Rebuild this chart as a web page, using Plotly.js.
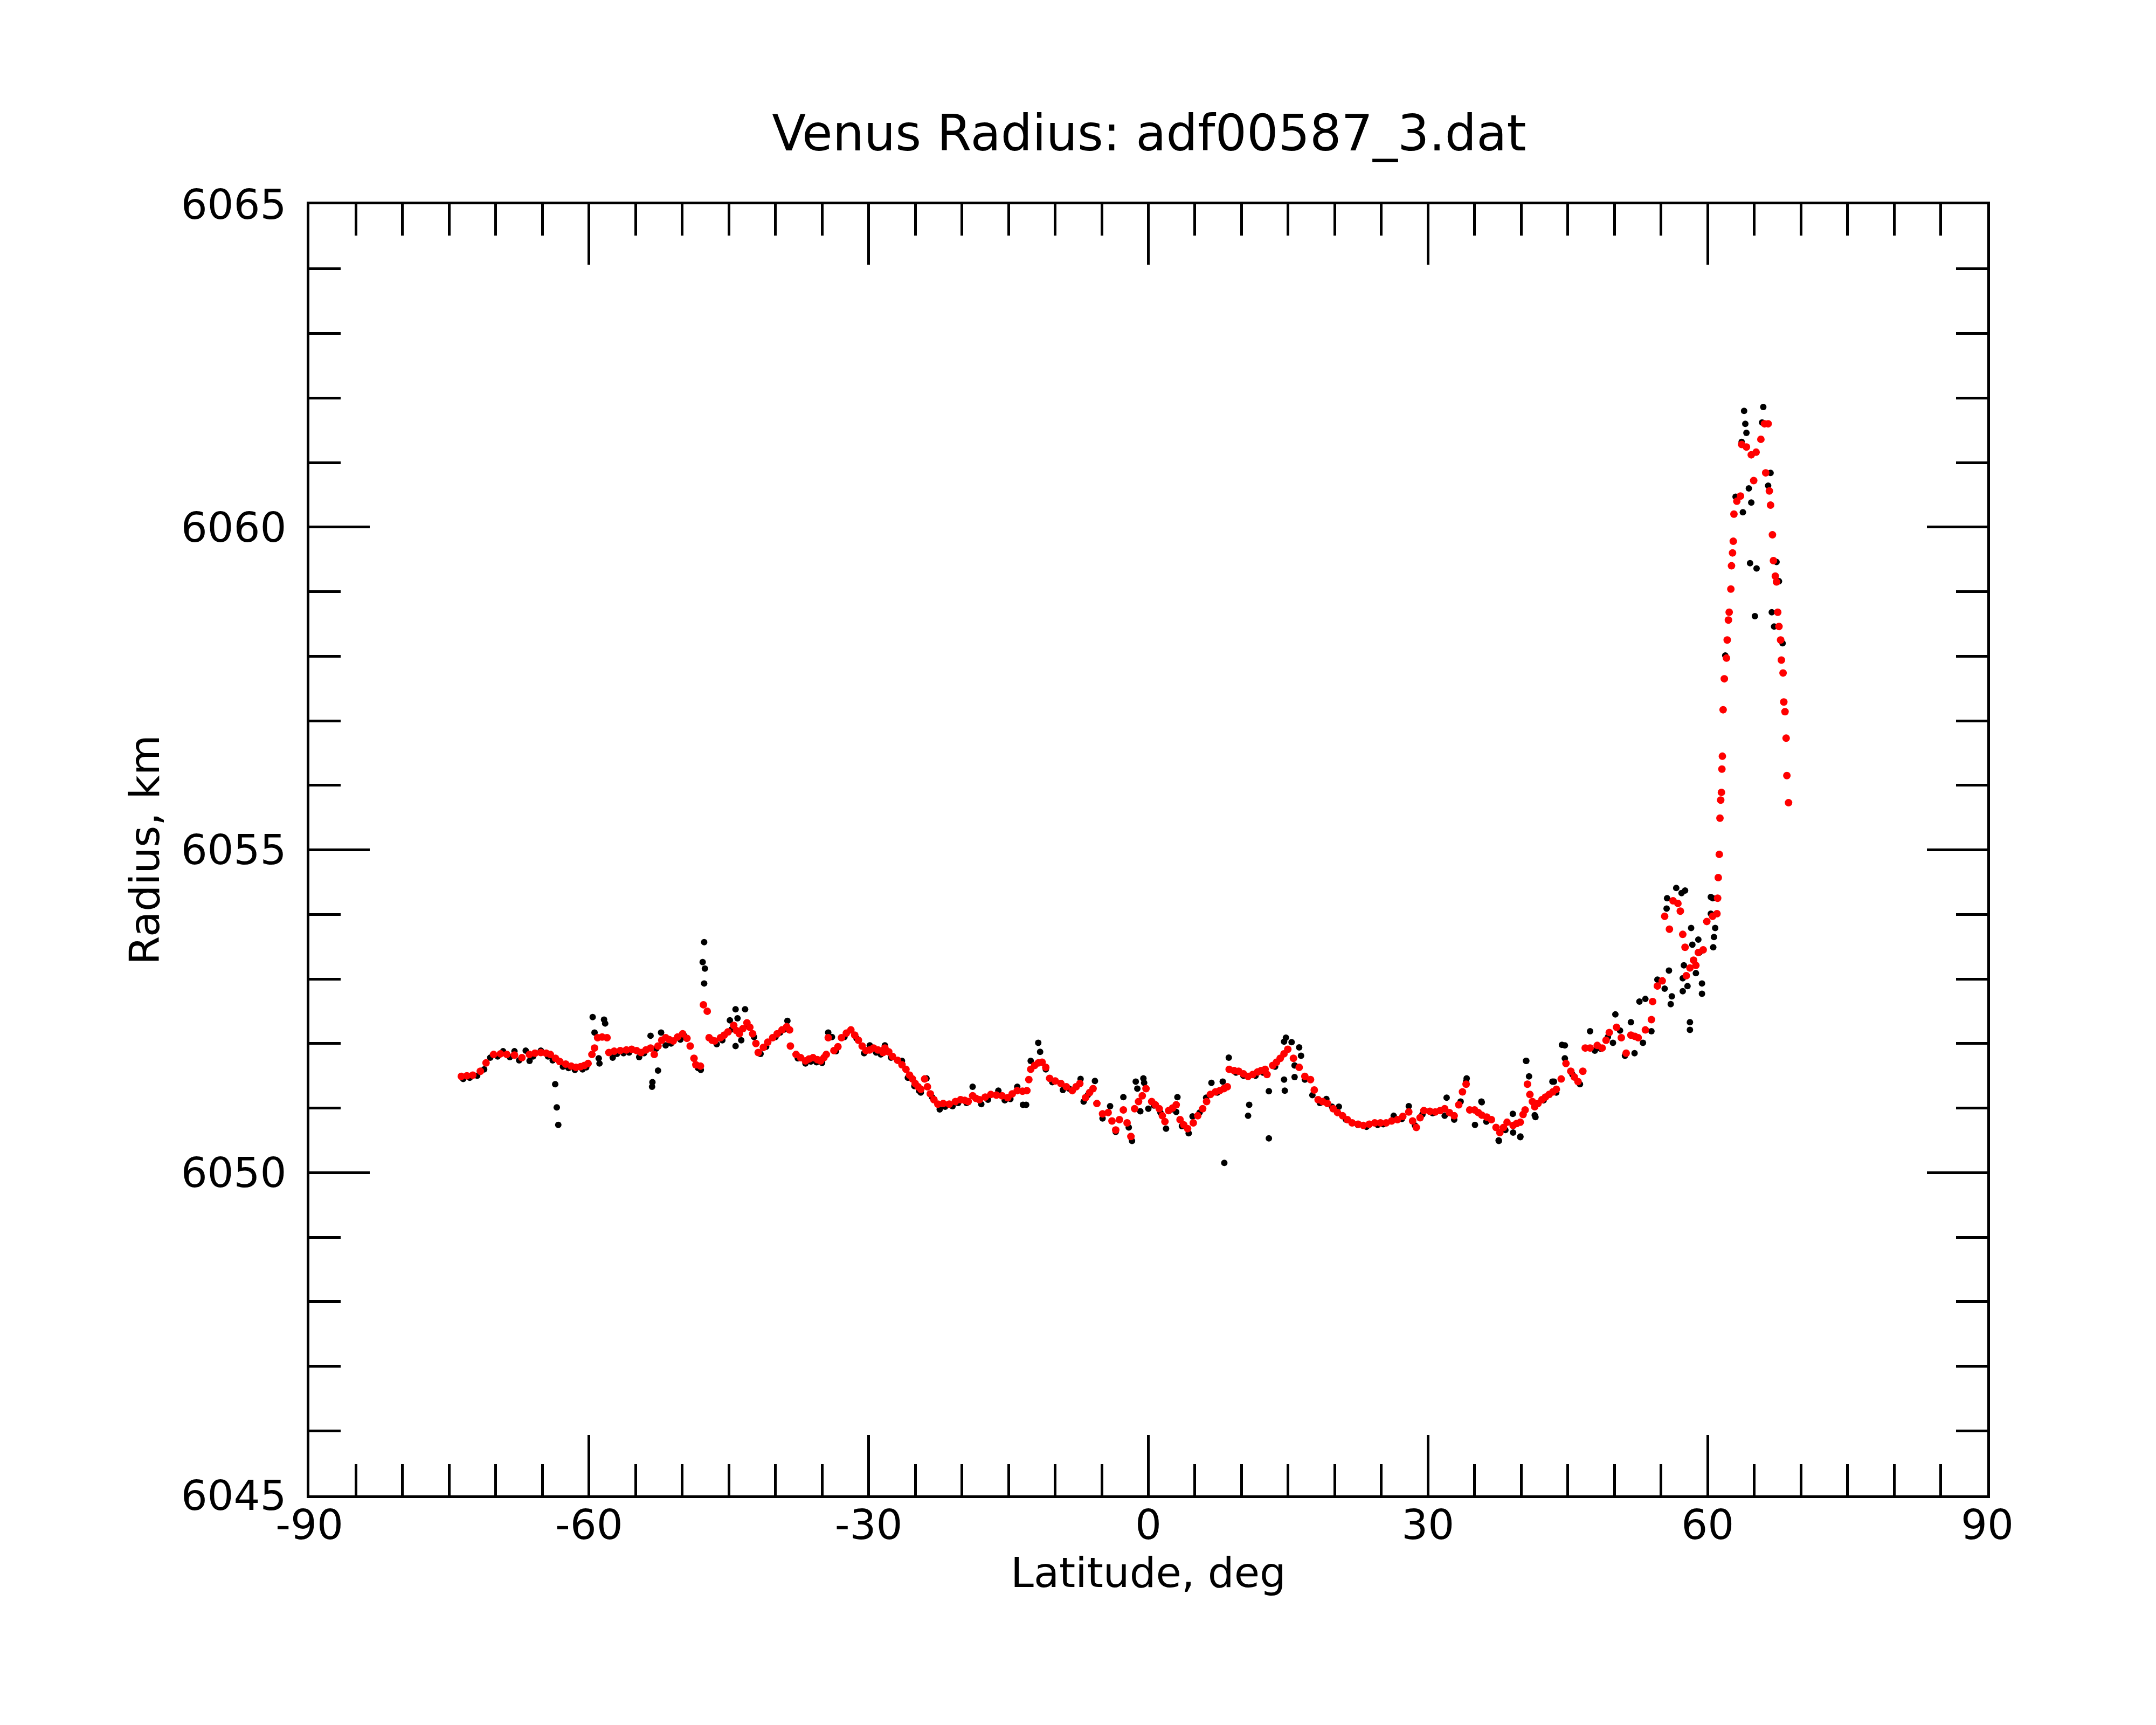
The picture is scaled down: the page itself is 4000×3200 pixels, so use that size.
<!DOCTYPE html>
<html>
<head>
<meta charset="utf-8">
<script src="https://cdn.plot.ly/plotly-3.0.1.min.js"></script>
<style>
  html, body { margin: 0; padding: 0; background: #fff; }
  #chart { width: 4000px; height: 3200px; }
</style>
</head>
<body>
<div id="chart"></div>
<script>
// smoothed profile (red)
const redLat = [
  -73.7, -73.1, -72.47, -71.66, -71.05, -70.24, -69.5, -68.82, -68.0, -67.2, -66.4, -65.8, -65.17, -64.6, -64.15,
  -63.6, -63.14, -62.5, -61.92, -61.4, -60.91, -60.5, -60.1, -59.69, -59.41, -59.08, -58.6, -58.07, -57.87, -57.3,
  -56.65, -56.0, -55.43, -54.9, -54.42, -53.9, -53.4, -53.0, -52.6, -52.2, -51.78, -51.4, -50.97, -50.5, -49.96,
  -49.5, -49.15, -48.74, -48.54, -48.05, -47.73, -47.32, -47.12, -46.8, -46.51, -45.9, -45.5, -45.09, -44.48, -44.2,
  -43.87, -43.5, -43.06, -42.75, -42.45, -42.1, -41.85, -41.3, -40.83, -40.3, -39.82, -39.3, -38.8, -38.48, -38.4,
  -37.79, -37.3, -36.78, -36.4, -35.97, -35.5, -35.16, -34.8, -34.55, -34.34, -33.73, -33.3, -32.92, -32.4, -31.91,
  -31.5, -31.1, -30.7, -30.29, -29.9, -29.48, -29.0, -28.46, -28.26, -27.85, -27.45, -26.9, -26.43, -26.0, -25.62,
  -25.3, -25.01, -24.7, -24.41, -24.0, -23.7, -23.39, -23.0, -22.58, -22.0, -21.36, -20.7, -20.14, -19.7, -19.33,
  -18.85, -18.5, -18.12, -17.5, -16.9, -16.3, -15.69, -15.08, -14.6, -14.06, -13.5, -13.03, -12.82, -12.62, -12.2,
  -11.8, -11.4, -11.0, -10.59, -10.0, -9.38, -8.8, -8.16, -7.75, -7.35, -6.74, -6.3, -5.93, -5.52, -4.91,
  -4.31, -3.9, -3.5, -3.1, -2.68, -2.28, -1.87, -1.47, -1.05, -0.65, -0.25, 0.36, 0.75, 1.17, 1.5,
  1.78, 2.18, 2.6, 2.99, 3.4, 3.8, 4.21, 4.82, 5.3, 5.83, 6.25, 6.65, 7.2, 7.66, 8.1,
  8.47, 8.67, 9.2, 9.69, 10.2, 10.7, 11.2, 11.72, 12.1, 12.53, 12.73, 13.34, 13.75, 14.15, 14.55,
  14.96, 15.57, 16.18, 16.79, 17.4, 17.8, 18.21, 18.7, 19.22, 19.83, 20.3, 20.84, 21.35, 21.86, 22.5,
  23.07, 23.7, 24.29, 24.9, 25.51, 26.1, 26.72, 27.3, 27.94, 28.35, 28.75, 29.15, 29.56, 30.2, 30.78,
  31.3, 31.79, 32.3, 32.81, 33.3, 33.7, 34.09, 34.48, 35.0, 35.4, 35.77, 36.3, 36.8, 37.3, 37.71,
  38.1, 38.48, 39.13, 39.5, 39.9, 40.2, 40.42, 40.67, 40.93, 41.2, 41.45, 41.8, 42.22, 42.6, 42.99,
  43.4, 43.77, 44.29, 44.8, 45.32, 45.7, 46.09, 46.61, 46.87, 47.39, 48.16, 48.68, 49.1, 49.45, 50.23,
  50.74, 51.26, 51.77, 52.2, 52.55, 53.32, 53.97, 54.1, 54.61, 55.13, 55.39, 55.9, 56.29, 56.81, 57.07,
  57.33, 57.58, 57.71, 58.1, 58.49, 58.74, 59.0, 59.52, 59.91, 60.53, 61.0, 61.07, 61.14, 61.25, 61.32,
  61.4, 61.48, 61.53, 61.58, 61.66, 61.79, 62.02, 62.1, 62.23, 62.31, 62.49, 62.56, 62.67, 62.75, 62.82,
  63.13, 63.52, 63.65, 64.16, 64.68, 64.94, 65.2, 65.71, 66.1, 66.23, 66.49, 66.62, 66.75, 66.95, 67.06,
  67.26, 67.39, 67.52, 67.65, 67.83, 67.91, 68.09, 68.17, 68.3, 68.42, 68.5, 68.68
];
const redRad = [
  6051.49, 6051.50, 6051.51, 6051.57, 6051.70, 6051.83, 6051.84, 6051.83, 6051.82, 6051.78, 6051.83, 6051.85, 6051.86, 6051.85, 6051.83,
  6051.77, 6051.72, 6051.68, 6051.65, 6051.63, 6051.64, 6051.66, 6051.69, 6051.83, 6051.93, 6052.09, 6052.10, 6052.09, 6051.86, 6051.88,
  6051.89, 6051.90, 6051.91, 6051.89, 6051.86, 6051.90, 6051.93, 6051.83, 6051.96, 6052.05, 6052.09, 6052.06, 6052.04, 6052.10, 6052.15,
  6052.08, 6051.96, 6051.77, 6051.67, 6051.65, 6052.60, 6052.50, 6052.09, 6052.05, 6052.04, 6052.09, 6052.13, 6052.18, 6052.28, 6052.20,
  6052.15, 6052.23, 6052.32, 6052.25, 6052.15, 6052.00, 6051.86, 6051.94, 6052.02, 6052.09, 6052.15, 6052.21, 6052.26, 6052.21, 6051.96,
  6051.83, 6051.78, 6051.73, 6051.76, 6051.78, 6051.75, 6051.73, 6051.78, 6051.83, 6052.09, 6051.89, 6051.95, 6052.09, 6052.16, 6052.21,
  6052.13, 6052.05, 6051.96, 6051.89, 6051.90, 6051.93, 6051.90, 6051.86, 6051.93, 6051.87, 6051.80, 6051.74, 6051.67, 6051.60, 6051.51,
  6051.45, 6051.38, 6051.33, 6051.29, 6051.45, 6051.33, 6051.22, 6051.13, 6051.06, 6051.07, 6051.06, 6051.10, 6051.13, 6051.12, 6051.10,
  6051.19, 6051.15, 6051.13, 6051.17, 6051.21, 6051.20, 6051.19, 6051.16, 6051.22, 6051.27, 6051.26, 6051.27, 6051.44, 6051.60, 6051.66,
  6051.70, 6051.71, 6051.63, 6051.46, 6051.42, 6051.38, 6051.33, 6051.27, 6051.33, 6051.38, 6051.16, 6051.24, 6051.30, 6051.07, 6050.91,
  6050.93, 6050.80, 6050.66, 6050.82, 6050.97, 6050.77, 6050.56, 6050.99, 6051.10, 6051.19, 6051.30, 6051.10, 6051.05, 6050.99, 6050.88,
  6050.79, 6050.96, 6051.00, 6051.05, 6050.82, 6050.74, 6050.68, 6050.77, 6050.88, 6050.99, 6051.10, 6051.21, 6051.25, 6051.27, 6051.30,
  6051.33, 6051.60, 6051.58, 6051.57, 6051.53, 6051.49, 6051.52, 6051.56, 6051.58, 6051.60, 6051.52, 6051.66, 6051.71, 6051.77, 6051.84,
  6051.91, 6051.77, 6051.63, 6051.49, 6051.44, 6051.28, 6051.13, 6051.10, 6051.07, 6050.99, 6050.93, 6050.88, 6050.82, 6050.77, 6050.75,
  6050.73, 6050.75, 6050.77, 6050.77, 6050.77, 6050.80, 6050.82, 6050.87, 6050.94, 6050.80, 6050.70, 6050.85, 6050.96, 6050.95, 6050.94,
  6050.96, 6050.99, 6050.93, 6050.88, 6051.05, 6051.25, 6051.37, 6050.97, 6050.97, 6050.93, 6050.89, 6050.86, 6050.82, 6050.70, 6050.62,
  6050.70, 6050.78, 6050.73, 6050.76, 6050.78, 6050.90, 6050.97, 6051.37, 6051.21, 6051.10, 6051.02, 6051.07, 6051.13, 6051.17, 6051.21,
  6051.25, 6051.29, 6051.45, 6051.69, 6051.57, 6051.48, 6051.41, 6051.57, 6051.93, 6051.93, 6051.97, 6051.93, 6052.05, 6052.17, 6052.25,
  6052.09, 6051.85, 6052.13, 6052.11, 6052.09, 6052.21, 6052.37, 6052.65, 6052.89, 6052.97, 6053.97, 6053.77, 6054.21, 6054.17, 6054.05,
  6053.69, 6053.49, 6053.05, 6053.17, 6053.29, 6053.21, 6053.41, 6053.45, 6053.89, 6053.97, 6054.01, 6054.25, 6054.57, 6054.93, 6055.49,
  6055.77, 6055.89, 6056.25, 6056.45, 6057.17, 6057.65, 6057.97, 6058.25, 6058.56, 6058.68, 6059.04, 6059.40, 6059.60, 6059.78, 6060.20,
  6060.40, 6060.48, 6061.28, 6061.24, 6061.12, 6060.72, 6061.16, 6061.36, 6061.60, 6060.84, 6061.60, 6060.56, 6060.34, 6059.88, 6059.48,
  6059.24, 6059.15, 6058.68, 6058.46, 6058.25, 6057.94, 6057.74, 6057.29, 6057.14, 6056.73, 6056.15, 6055.73
];

// raw measurements (black)
const rawLat = [
  -73.5, -72.8, -72.0, -71.25, -70.6, -69.8, -69.22, -68.5, -68.0, -67.5, -66.79, -66.38, -66.0, -65.17, -64.4,
  -63.9, -63.63, -63.46, -63.3, -62.8, -62.2, -61.52, -60.7, -60.3, -59.61, -59.41, -58.96, -58.88, -58.39, -58.27,
  -57.46, -57.0, -56.3, -55.7, -54.62, -54.1, -53.4, -53.24, -53.2, -52.8, -52.6, -52.27, -51.78, -51.2, -50.2,
  -49.8, -48.3, -48.01, -47.81, -47.65, -47.65, -47.57, -46.3, -45.7, -44.89, -44.7, -44.28, -44.28, -44.07, -43.67,
  -43.26, -42.9, -42.3, -41.6, -41.0, -40.0, -39.5, -39.0, -38.72, -37.6, -36.78, -36.2, -35.6, -35.0, -34.34,
  -33.94, -33.5, -32.6, -31.91, -31.3, -30.49, -29.88, -29.2, -28.7, -28.26, -27.6, -26.43, -25.8, -25.1, -24.6,
  -24.41, -23.8, -23.2, -22.38, -21.8, -21.0, -20.4, -19.5, -18.85, -17.92, -17.2, -16.09, -15.4, -14.8, -14.06,
  -13.45, -13.11, -12.62, -11.81, -11.61, -11.0, -10.3, -9.17, -8.5, -7.27, -6.94, -6.5, -5.73, -4.91, -4.1,
  -3.5, -2.68, -2.1, -1.75, -1.35, -1.18, -0.86, -0.53, -0.45, 0.0, 0.6, 1.3, 1.9, 2.5, 2.99,
  3.12, 3.6, 4.33, 4.74, 5.5, 6.2, 6.77, 7.4, 7.98, 8.15, 8.63, 9.4, 10.2, 10.7, 10.82,
  11.5, 12.3, 12.93, 12.93, 13.6, 14.56, 14.56, 14.64, 14.76, 15.37, 15.69, 15.69, 16.18, 16.38, 16.79,
  17.6, 18.4, 19.1, 19.7, 20.44, 21.2, 22.47, 23.4, 24.6, 25.2, 26.32, 27.2, 27.94, 28.6, 29.4,
  30.5, 31.79, 32.0, 32.81, 33.5, 34.09, 34.15, 35.04, 35.73, 35.77, 36.26, 37.58, 37.6, 38.3, 39.1,
  39.13, 39.9, 39.91, 40.51, 40.55, 40.84, 41.45, 41.53, 42.4, 43.35, 43.51, 43.76, 44.37, 44.68, 44.68,
  45.5, 46.3, 47.39, 47.9, 48.5, 49.3, 49.84, 50.1, 50.6, 51.13, 51.77, 52.16, 52.68, 53.06, 53.32,
  53.97, 54.61, 55.39, 55.6, 55.65, 55.85, 56.04, 56.16, 56.63, 57.2, 57.33, 57.33, 57.45, 57.58, 57.84,
  58.1, 58.1, 58.23, 58.36, 58.74, 59.0, 59.13, 59.39, 59.39, 60.34, 60.34, 60.55, 60.6, 60.68, 60.81,
  61.89, 63.0, 63.65, 63.78, 63.91, 64.04, 64.16, 64.42, 64.55, 64.68, 65.07, 65.25, 65.84, 65.97, 66.49,
  66.75, 66.88, 67.13, 67.39, 67.65, 68.04
];
const rawRad = [
  6051.45, 6051.47, 6051.50, 6051.60, 6051.78, 6051.80, 6051.88, 6051.79, 6051.88, 6051.74, 6051.89, 6051.73, 6051.80, 6051.89, 6051.80,
  6051.74, 6051.37, 6051.01, 6050.74, 6051.64, 6051.62, 6051.59, 6051.60, 6051.63, 6052.41, 6052.17, 6051.77, 6051.69, 6052.37, 6052.31,
  6051.78, 6051.84, 6051.85, 6051.86, 6051.79, 6051.85, 6052.12, 6051.33, 6051.40, 6051.92, 6051.58, 6052.17, 6051.97, 6052.00, 6052.06,
  6052.12, 6051.62, 6051.59, 6053.26, 6053.57, 6052.93, 6053.16, 6051.99, 6052.05, 6052.36, 6052.22, 6052.53, 6051.96, 6052.39, 6052.05,
  6052.53, 6052.27, 6052.10, 6051.84, 6051.95, 6052.10, 6052.17, 6052.22, 6052.35, 6051.77, 6051.69, 6051.72, 6051.71, 6051.70, 6052.17,
  6052.10, 6051.88, 6052.10, 6052.21, 6052.08, 6051.85, 6051.97, 6051.86, 6051.83, 6051.97, 6051.78, 6051.73, 6051.47, 6051.34, 6051.27,
  6051.24, 6051.46, 6051.17, 6050.98, 6051.02, 6051.03, 6051.08, 6051.08, 6051.33, 6051.06, 6051.13, 6051.27, 6051.12, 6051.14, 6051.33,
  6051.05, 6051.05, 6051.73, 6052.01, 6051.87, 6051.60, 6051.40, 6051.28, 6051.30, 6051.45, 6051.10, 6051.20, 6051.42, 6050.84, 6051.03,
  6050.63, 6051.17, 6050.70, 6050.49, 6051.41, 6051.30, 6050.95, 6051.46, 6051.39, 6050.99, 6051.04, 6050.93, 6050.68, 6050.98, 6050.94,
  6051.17, 6050.72, 6050.61, 6050.87, 6050.93, 6051.16, 6051.39, 6051.24, 6051.41, 6050.15, 6051.78, 6051.55, 6051.50, 6050.88, 6051.05,
  6051.50, 6051.55, 6051.26, 6050.53, 6051.64, 6051.44, 6052.03, 6051.27, 6052.09, 6052.02, 6051.48, 6051.66, 6051.94, 6051.81, 6051.44,
  6051.20, 6051.08, 6051.14, 6051.02, 6051.02, 6050.82, 6050.74, 6050.71, 6050.74, 6050.75, 6050.88, 6050.83, 6051.03, 6050.73, 6050.90,
  6050.92, 6050.88, 6051.16, 6050.82, 6051.10, 6051.41, 6051.46, 6050.74, 6051.10, 6051.09, 6050.79, 6050.50, 6050.49, 6050.66, 6050.91,
  6050.62, 6050.55, 6050.56, 6051.73, 6051.73, 6051.49, 6050.89, 6050.86, 6051.12, 6051.41, 6051.41, 6051.24, 6051.98, 6051.97, 6051.77,
  6051.52, 6051.37, 6052.19, 6051.89, 6051.92, 6052.10, 6052.01, 6052.45, 6052.20, 6051.81, 6052.33, 6051.85, 6052.65, 6052.01, 6052.69,
  6052.19, 6052.99, 6052.85, 6054.09, 6054.25, 6053.13, 6052.61, 6052.73, 6054.41, 6054.33, 6053.01, 6052.81, 6053.21, 6054.37, 6052.89,
  6052.33, 6052.21, 6053.79, 6053.53, 6053.09, 6053.61, 6053.41, 6052.93, 6052.77, 6054.01, 6054.27, 6054.25, 6053.49, 6053.65, 6053.79,
  6058.01, 6060.47, 6061.32, 6060.23, 6061.80, 6061.60, 6061.46, 6060.60, 6059.44, 6060.38, 6058.62, 6059.36, 6061.62, 6061.86, 6060.64,
  6060.84, 6058.68, 6058.46, 6059.46, 6059.16, 6058.20
];

// tick labels (plain hyphen for negatives, as in the original)
const latTicks = [-90, -60, -30, 0, 30, 60, 90];
const latLabels = ['-90', '-60', '-30', '0', '30', '60', '90'];
const radTicks = [6045, 6050, 6055, 6060, 6065];
const radLabels = ['6045', '6050', '6055', '6060', '6065'];

const font = 'DejaVu Sans, Liberation Sans, sans-serif';

const raw = {
  x: rawLat,
  y: rawRad,
  mode: 'markers',
  type: 'scatter',
  marker: { color: '#000000', size: 12 },
  hoverinfo: 'skip'
};

const smooth = {
  x: redLat,
  y: redRad,
  mode: 'markers',
  type: 'scatter',
  marker: { color: '#ff0000', size: 14 },
  hoverinfo: 'skip'
};

const layout = {
  width: 4000,
  height: 3200,
  showlegend: false,
  paper_bgcolor: '#ffffff',
  plot_bgcolor: '#ffffff',
  margin: { l: 574, r: 313, t: 379, b: 426 },
  font: { family: font, size: 77, color: '#000' },
  title: {
    text: 'Venus Radius: adf00587_3.dat',
    font: { family: font, size: 92, color: '#000' },
    x: 0.533, xanchor: 'center',
    y: 1 - 247 / 3200, yanchor: 'middle', yref: 'container'
  },
  xaxis: {
    range: [-90, 90],
    tickmode: 'array', tickvals: latTicks, ticktext: latLabels,
    ticks: 'inside', ticklen: 112, tickwidth: 5, tickcolor: '#000',
    minor: { ticks: 'inside', dtick: 5, ticklen: 58, tickwidth: 5, tickcolor: '#000' },
    showline: true, linewidth: 5, linecolor: '#000', mirror: 'ticks',
    showgrid: false, zeroline: false,
    ticklabelstandoff: -16,
    tickfont: { family: font, size: 77 },
    title: { text: 'Latitude, deg', font: { family: font, size: 77 }, standoff: 0 }
  },
  yaxis: {
    range: [6045, 6065],
    tickmode: 'array', tickvals: radTicks, ticktext: radLabels,
    ticks: 'inside', ticklen: 112, tickwidth: 5, tickcolor: '#000',
    minor: { ticks: 'inside', dtick: 1, ticklen: 58, tickwidth: 5, tickcolor: '#000' },
    showline: true, linewidth: 5, linecolor: '#000', mirror: 'ticks',
    showgrid: false, zeroline: false,
    ticklabelstandoff: 22,
    tickfont: { family: font, size: 77 },
    title: { text: 'Radius, km', font: { family: font, size: 77 }, standoff: 16 }
  }
};

Plotly.newPlot('chart', [raw, smooth], layout, { staticPlot: true });
</script>
</body>
</html>
